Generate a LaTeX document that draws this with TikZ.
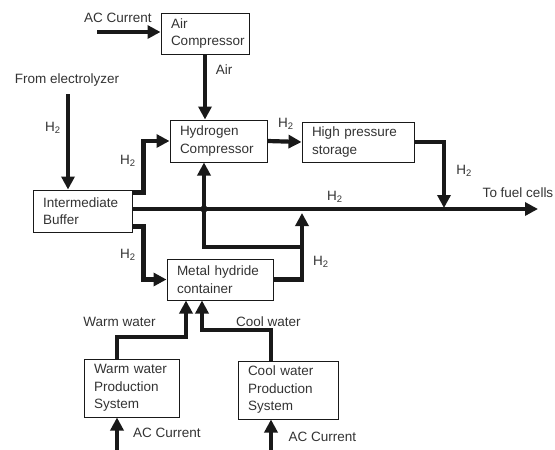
\documentclass[tikz,border=0pt]{standalone}
\usepackage{fontspec}
\setmainfont{Liberation Sans}
\usepackage{tikz}
\usetikzlibrary{positioning,arrows.meta}
\definecolor{ink}{gray}{0.1}
\definecolor{txt}{gray}{0.2}
\newcommand{\fLab}{\fontsize{13.5}{17.5}\selectfont}
\newcommand{\Htwo}{H\textsubscript{2}}

\begin{document}
\begin{tikzpicture}[x=1pt,y=-1pt,
  box/.style={draw=ink,line width=1pt,align=left,inner xsep=10pt,inner ysep=0pt,font=\fLab,text=txt},
  flow/.style={draw=ink,line width=4.2pt,-{Triangle[length=13pt,width=13pt]}},
  pipe/.style={draw=ink,line width=4.2pt},
  lab/.style={font=\fLab,text=txt,inner sep=0pt}]
  \useasboundingbox (0,0) rectangle (555,450);
  \node[box,text width=68pt,minimum height=41pt] (aircomp) at (205,33.5) {Air\\Compressor};
  \node[box,text width=77pt,minimum height=42pt] (hcomp) at (218.5,141) {Hydrogen\\Compressor};
  \node[box,text width=92pt,minimum height=40pt] (hps) at (358,142) {High pressure\\storage};
  \node[box,text width=79pt,minimum height=42pt] (buffer) at (82.5,211) {Intermediate\\Buffer};
  \node[box,text width=86pt,minimum height=41pt] (mhc) at (220,279.5) {Metal hydride\\container};
  \node[box,text width=75pt,minimum height=58pt] (warm) at (131.5,388) {Warm water\\Production\\System};
  \node[box,text width=80pt,minimum height=58pt] (cool) at (288,390) {Cool water\\Production\\System};

  \coordinate (acair) at (97,32);
  \coordinate (elec) at (68,94);
  \coordinate (jn) at (204,209);
  \coordinate (lp) at (302,247);
  \coordinate (mg) at (302,213);
  \coordinate (drop) at (444,208);
  \coordinate (fuel) at (538,209);
  \coordinate (wj) at (186,337);
  \coordinate (cj) at (202,330);
  \coordinate (acw) at (117,450);
  \coordinate (acc) at (271,450);

  \draw[flow] (acair) -- (acair -| aircomp.west);
  \draw[flow] (aircomp.south) -- (aircomp.south |- hcomp.north);
  \draw[flow] (elec) -- (elec |- buffer.north);
  \draw[flow] ([yshift=-3pt]buffer.north east) -- ++(11,0) |- (hcomp.west);
  \draw[flow] ([yshift=6pt]buffer.south east) -- ++(11,0) |- (mhc.west);
  \draw[flow] ([yshift=2pt]buffer.east) -- (fuel);
  \draw[flow] (jn) -- (jn |- hcomp.south);
  \draw[pipe] (jn) |- (lp);
  \draw[flow] (mhc.east) -| (mg);
  \draw[flow] (hcomp.east) -- (hps.west);
  \draw[flow] (hps.east) -| (drop);
  \fill[ink] (jn) circle (3.6pt);
  \draw[flow] ([xshift=-14.5pt]warm.north) |- (wj) -- (wj |- mhc.south);
  \draw[flow] ([xshift=-17pt]cool.north) |- (cj) -- (cj |- mhc.south);
  \draw[flow] (acw) -- (acw |- warm.south);
  \draw[flow] (acc) -- (acc |- cool.south);

  \node[lab] (acl1) at (118,18) {AC Current};
  \node[lab] (airl) at (224,70) {Air};
  \node[lab] (froml) at (67,80) {From electrolyzer};
  \node[lab] (h2a) at (53,128) {\Htwo};
  \node[lab] (h2b) at (128,161) {\Htwo};
  \node[lab] (h2c) at (128,255) {\Htwo};
  \node[lab] (h2d) at (286,124) {\Htwo};
  \node[lab] (h2e) at (464,171) {\Htwo};
  \node[lab] (h2f) at (335,197) {\Htwo};
  \node[lab] (h2g) at (321,262) {\Htwo};
  \node[lab] (fuell) at (518,193) {To fuel cells};
  \node[lab] (warml) at (119.5,322) {Warm water};
  \node[lab] (cooll) at (268.5,322) {Cool water};
  \node[lab] (acl2) at (167,433) {AC Current};
  \node[lab] (acl3) at (322.5,437) {AC Current};
\end{tikzpicture}
\end{document}
